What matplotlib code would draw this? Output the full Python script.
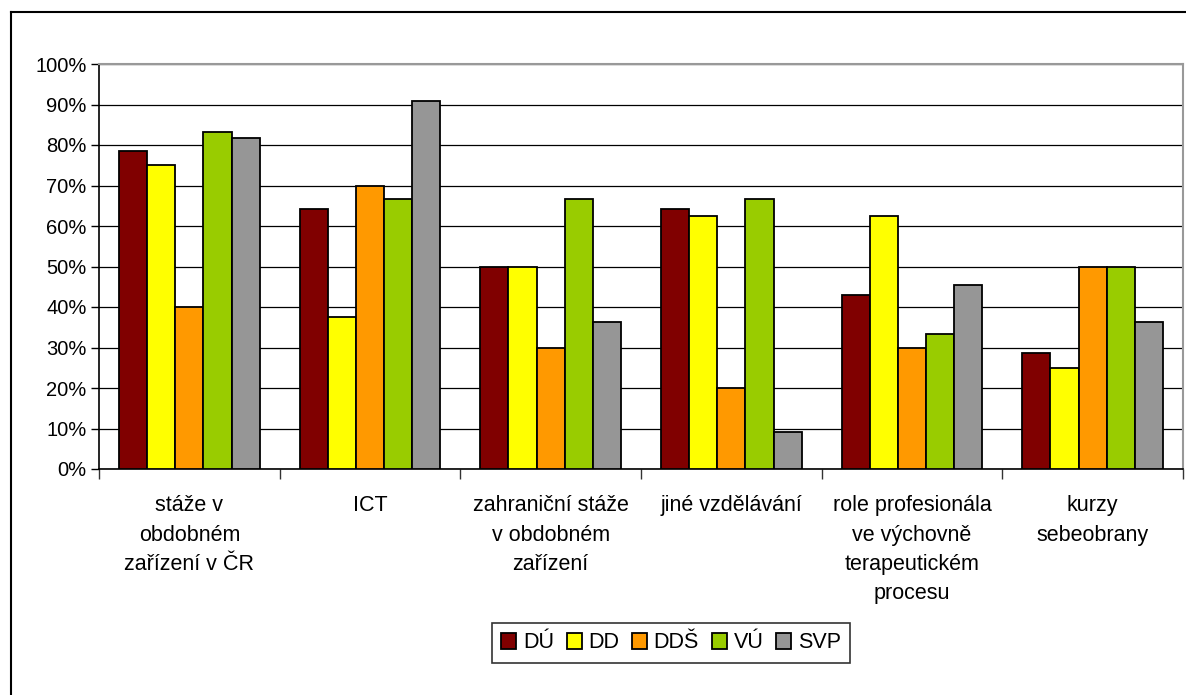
import matplotlib.pyplot as plt
import numpy as np
from matplotlib.lines import Line2D
from matplotlib.ticker import FuncFormatter, MultipleLocator

plt.rcParams['font.family'] = ['Liberation Sans', 'DejaVu Sans']

categories = ["stáže v\nobdobném\nzařízení v ČR", "ICT",
              "zahraniční stáže\nv obdobném\nzařízení", "jiné vzdělávání",
              "role profesionála\nve výchovně\nterapeutickém\nprocesu",
              "kurzy\nsebeobrany"]
series = ["DÚ", "DD", "DDŠ", "VÚ", "SVP"]
DU = [78.6, 64.3, 50.0, 64.3, 42.9, 28.6]
DD = [75.0, 37.5, 50.0, 62.5, 62.5, 25.0]
DDS = [40.0, 70.0, 30.0, 20.0, 30.0, 50.0]
VU = [83.3, 66.7, 66.7, 66.7, 33.3, 50.0]
SVP = [81.8, 90.9, 36.4, 9.1, 45.5, 36.4]
values = [DU, DD, DDS, VU, SVP]
colors = ["#800000", "#FFFF00", "#FF9900", "#99CC00", "#969696"]

fig = plt.figure(figsize=(11.86, 6.95), dpi=100)
ax = fig.add_axes([99 / 1186, 1 - 469 / 695, 1084 / 1186, 405 / 695])

# outer chart border (only top and left visible)
fig.add_artist(Line2D([11 / 1186, 1.0], [1 - 12 / 695, 1 - 12 / 695], color='black', lw=1.5))
fig.add_artist(Line2D([11 / 1186, 11 / 1186], [0, 1 - 12 / 695], color='black', lw=1.5))

x = np.arange(len(categories)) + 0.5
w = 0.156
for j, (name, vals, c) in enumerate(zip(series, values, colors)):
    ax.bar(x + (j - 2) * w, vals, w, color=c, edgecolor='black', linewidth=1.3,
           label=name, zorder=3)

ax.set_xlim(0, 6)
ax.set_ylim(0, 100)
ax.yaxis.set_major_locator(MultipleLocator(10))
ax.yaxis.set_major_formatter(FuncFormatter(lambda v, p: f"{int(v)}%"))
ax.grid(axis='y', color='black', lw=0.9, zorder=0)
ax.set_axisbelow(True)

ax.set_xticks(x)
ax.set_xticklabels(categories, fontsize=15.5, linespacing=1.52, va='top')
ax.set_xticks(np.arange(7), minor=True)
ax.tick_params(axis='x', which='major', length=0, pad=19)
ax.tick_params(axis='x', which='minor', length=7, width=1, color='#333333')
ax.tick_params(axis='y', length=6, width=1, labelsize=14.5, pad=3)

for s in ['left', 'bottom']:
    ax.spines[s].set_color('black')
    ax.spines[s].set_linewidth(1.2)
for s in ['top', 'right']:
    ax.spines[s].set_color('#999999')
    ax.spines[s].set_linewidth(1.5)

leg = ax.legend(loc='center', bbox_to_anchor=(671 / 1186, 1 - 643 / 695),
                bbox_transform=fig.transFigure, ncol=5, frameon=True, fancybox=False,
                fontsize=15.5, handlelength=0.7, handleheight=0.7, handletextpad=0.3,
                columnspacing=0.6, borderpad=0.45)
leg.get_frame().set_edgecolor('black')
leg.get_frame().set_linewidth(1.2)

fig.savefig("out.png", dpi=100)
